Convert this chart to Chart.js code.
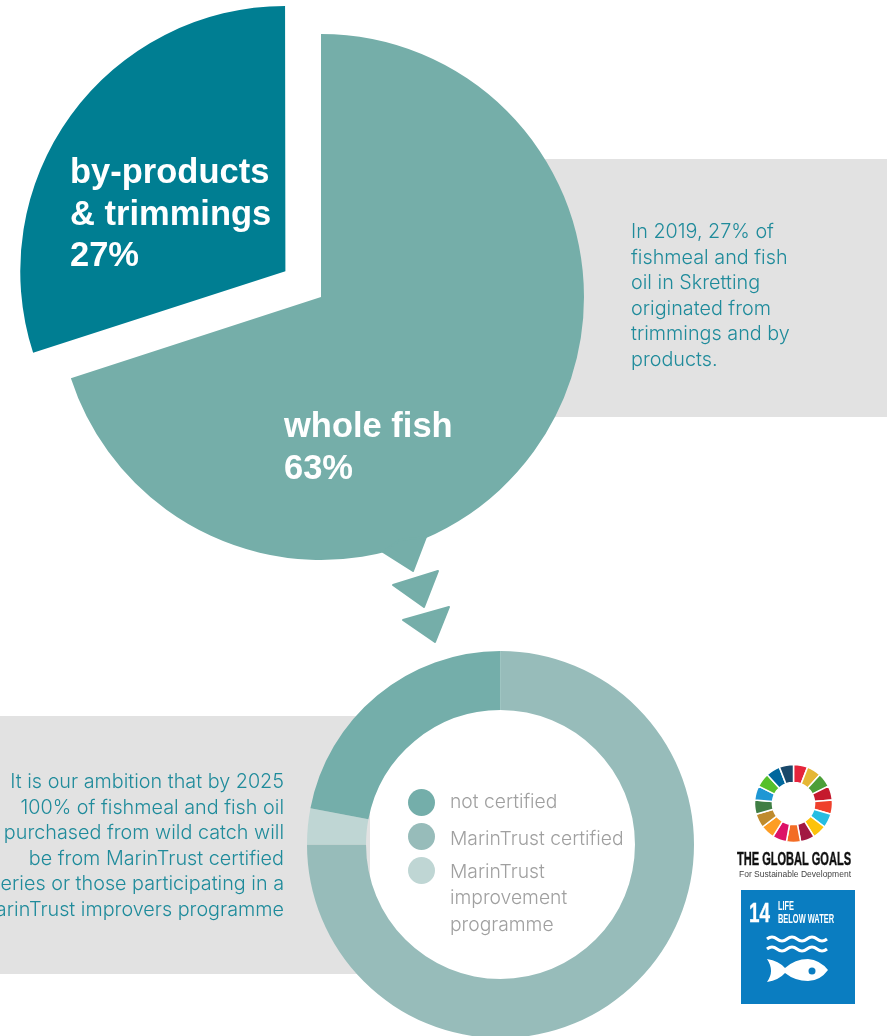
<!DOCTYPE html>
<html>
<head>
<meta charset="utf-8">
<script src="https://cdn.jsdelivr.net/npm/chart.js@4"></script>
<style>
html, body { margin: 0; padding: 0; background: #fff; }
body { position: relative; width: 895px; height: 1036px; overflow: hidden; font-family: "Liberation Sans", Arial, sans-serif; }
canvas, .panel, .texto, .big, #leyenda, svg { position: absolute; }
.panel { background: #e2e2e2; }
#panel1 { left: 500px; top: 159px; width: 387px; height: 258px; }
#panel2 { left: 0; top: 716px; width: 370px; height: 258px; }
.texto { font-family: Inter, "Liberation Sans", sans-serif; font-weight: 300; font-size: 19.8px; line-height: 25.6px; color: #1f8b9b; white-space: nowrap; }
#texto1 { left: 631px; top: 219px; }
#texto2 { right: 611px; top: 769px; text-align: right; }
.big { font-size: 34.5px; font-weight: bold; line-height: 41.5px; color: #fff; white-space: nowrap; }
#big1 { left: 70px; top: 151px; }
#big2 { left: 284px; top: 405px; }
#leyenda { left: 0; top: 0; color: #a0a0a0; font-family: Inter, "Liberation Sans", sans-serif; font-weight: 300; font-size: 19.3px; line-height: 26.3px; }
#leyenda div { position: absolute; white-space: nowrap; }
#leyenda .dot { width: 27px; height: 27px; border-radius: 50%; }
#pie { left: 1px; top: -23px; }
#dona { left: 300px; top: 644px; }
#rueda { left: 748px; top: 758px; }
</style>
</head>
<body>
<div class="panel" id="panel1"></div>
<div class="panel" id="panel2"></div>

<canvas id="pie" width="640" height="640"></canvas>
<canvas id="dona" width="401" height="401"></canvas>
<canvas id="rueda" width="91" height="91"></canvas>

<svg width="895" height="1036" style="left:0;top:0">
  <g fill="#75aea9" stroke="#75aea9" stroke-width="2" stroke-linejoin="round">
    <polygon points="383,552 413,571 426,537 400,540"/>
    <polygon points="393,585 438,571 424,607"/>
    <polygon points="403,620 449,607 435,642"/>
  </g>
  <text x="737" y="865" font-family="Liberation Sans Narrow, Liberation Sans" font-weight="bold" font-size="18" fill="#111" stroke="#111" stroke-width="0.4" textLength="114" lengthAdjust="spacingAndGlyphs">THE GLOBAL GOALS</text>
  <text x="739" y="877" font-family="Liberation Sans" font-size="9.5" fill="#444" textLength="112" lengthAdjust="spacingAndGlyphs">For Sustainable Development</text>
  <rect x="741" y="890" width="114" height="114" fill="#0a7dc1"/>
  <text x="749" y="922" font-family="Liberation Sans Narrow, Liberation Sans" font-weight="bold" font-size="28" fill="#fff" stroke="#fff" stroke-width="0.4" textLength="21" lengthAdjust="spacingAndGlyphs">14</text>
  <text x="778" y="910" font-family="Liberation Sans Narrow, Liberation Sans" font-weight="bold" font-size="12" fill="#fff" textLength="16" lengthAdjust="spacingAndGlyphs">LIFE</text>
  <text x="778" y="923" font-family="Liberation Sans Narrow, Liberation Sans" font-weight="bold" font-size="12" fill="#fff" textLength="56" lengthAdjust="spacingAndGlyphs">BELOW WATER</text>
  <g fill="none" stroke="#fff" stroke-width="3">
    <path d="M767 939 q5 -4 10 0 t10 0 t10 0 t10 0 t10 0 t10 0"/>
    <path d="M767 949 q5 -4 10 0 t10 0 t10 0 t10 0 t10 0 t10 0"/>
  </g>
  <path fill="#fff" d="M767 959 Q779 961 785 968 Q795 959 808 959 Q820 960 828 970 Q820 981 808 981 Q795 981 785 973 Q779 980 767 982 Q775 971 767 959 Z"/>
  <circle cx="812" cy="971" r="3.5" fill="#0a7dc1"/>
</svg>

<div class="texto" id="texto1">In 2019, 27% of<br>fishmeal and fish<br>oil in Skretting<br>originated from<br>trimmings and by<br>products.</div>
<div class="texto" id="texto2">It is our ambition that by 2025<br>100% of fishmeal and fish oil<br>purchased from wild catch will<br>be from MarinTrust certified<br>fisheries or those participating in a<br>MarinTrust improvers programme</div>
<div class="big" id="big1">by-products<br>&amp; trimmings<br>27%</div>
<div class="big" id="big2">whole fish<br>63%</div>
<div id="leyenda"></div>

<script>
// pie grande
const origenLabels = ['whole fish', 'by-products & trimmings'];
const origenValores = [63, 27];
const origenColores = ['#75aea9', '#007e92'];
const origenOffset = [0, 176]; // chart.js desplaza offset/4

// dona de certificacion, en el orden en que se dibuja desde las 12
const certLabels = ['MarinTrust certified', 'MarinTrust improvement programme', 'not certified'];
const certValores = [75, 3, 22];
const certColores = ['#97bcba', '#bfd6d4', '#74aeaa'];

// leyenda
const leyendaLabels = ['not certified', 'MarinTrust certified', 'MarinTrust<br>improvement<br>programme'];
const leyendaColores = ['#74aeaa', '#97bcba', '#bfd6d4'];
const leyendaY = [803, 837, 871];
const leyendaTextoY = [788, 825, 858];

// rueda de los 17 objetivos
const ruedaLabels = ['1','2','3','4','5','6','7','8','9','10','11','12','13','14','15','16','17'];
const ruedaValores = [1,1,1,1,1,1,1,1,1,1,1,1,1,1,1,1,1];
const ruedaColores = ['#e5243b','#e5b735','#4c9f38','#c5192d','#ef402b','#26bde2','#fcc30b','#a21942','#f36d25','#dd1367','#fd9d24','#bf8b2e','#3f7e44','#1f97d4','#56c02b','#00689d','#19486a'];

function crearDona(id, labels, data, colores, extra, opciones) {
    return new Chart(document.getElementById(id), {
        type: 'doughnut',
        data: {
            labels: labels,
            datasets: [Object.assign({ data: data, backgroundColor: colores, borderWidth: 0 }, extra)]
        },
        options: Object.assign({
            responsive: false,
            animation: false,
            plugins: { legend: { display: false }, tooltip: { enabled: false } }
        }, opciones)
    });
}

crearDona('pie', origenLabels, origenValores, origenColores, { offset: origenOffset }, { radius: 263, cutout: 0 });
crearDona('dona', certLabels, certValores, certColores, {}, { radius: 193.5, cutout: '69.5%' });
crearDona('rueda', ruedaLabels, ruedaValores, ruedaColores, { borderWidth: 1.5, borderColor: '#fff' }, { radius: 39, cutout: '54%' });

const leyenda = document.getElementById('leyenda');
leyendaLabels.forEach((txt, i) => {
    const dot = document.createElement('div');
    dot.className = 'dot';
    dot.style.left = '408px';
    dot.style.top = (leyendaY[i] - 14) + 'px';
    dot.style.background = leyendaColores[i];
    leyenda.appendChild(dot);
    const t = document.createElement('div');
    t.innerHTML = txt;
    t.style.left = '450px';
    t.style.top = leyendaTextoY[i] + 'px';
    leyenda.appendChild(t);
});
</script>
</body>
</html>
